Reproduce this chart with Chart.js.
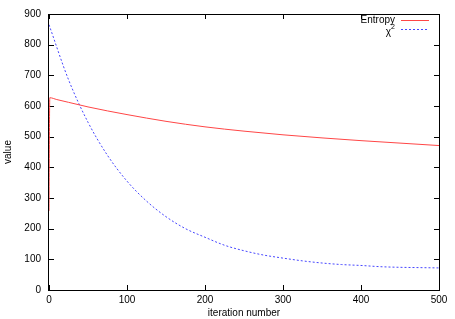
<!DOCTYPE html>
<html>
<head>
<meta charset="utf-8">
<script src="https://cdn.jsdelivr.net/npm/chart.js@4/dist/chart.umd.min.js"></script>
<style>
  html, body { margin: 0; padding: 0; background: #fff; }
  #caixa { width: 455px; height: 319px; }
</style>
</head>
<body>
<div id="caixa"><canvas id="grafico"></canvas></div>
<script>
// dados
const iterEntropia = [0, 1, 10, 25, 50, 75, 100, 150, 200, 250, 300, 350, 400, 450, 500];
const valorEntropia = [258, 627, 621, 612, 597, 584, 572, 550, 532, 518, 506, 496, 487, 479, 471];

const iterChi = [0, 25, 50, 75, 100, 125, 150, 175, 200, 225, 250, 275, 300, 325, 350, 375, 400, 425, 450, 475, 500];
const valorChi = [865, 686, 547, 439, 355, 290, 239, 200, 172, 146, 128, 114, 104, 95, 88, 83, 80, 76, 74, 73, 72];

const ticksX = [0, 100, 200, 300, 400, 500];
const ticksY = [0, 100, 200, 300, 400, 500, 600, 700, 800, 900];

const corEntropia = 'rgb(255, 70, 70)';
const corChi = 'rgb(70, 70, 255)';
const fonte = { family: 'Liberation Sans, Arial, sans-serif', size: 10 };

// moldura estilo gnuplot, com marcas para dentro nos quatro lados
const moldura = {
  id: 'moldura',
  beforeDatasetsDraw(chart) {
    const c = chart.ctx, a = chart.chartArea;
    const sx = chart.scales.x, sy = chart.scales.y;
    c.save();
    c.strokeStyle = '#000';
    c.lineWidth = 1;
    c.strokeRect(a.left - 0.5, a.top + 0.5, a.right - a.left + 1, a.bottom - a.top);
    c.beginPath();
    ticksX.forEach(v => {
      const px = Math.round(sx.getPixelForValue(v)) + 0.5;
      c.moveTo(px, a.bottom); c.lineTo(px, a.bottom - 5);
      c.moveTo(px, a.top); c.lineTo(px, a.top + 5);
    });
    ticksY.forEach(v => {
      const py = Math.round(sy.getPixelForValue(v)) + 0.5;
      c.moveTo(a.left, py); c.lineTo(a.left + 5, py);
      c.moveTo(a.right, py); c.lineTo(a.right - 5, py);
    });
    c.stroke();
    c.restore();
  },
  afterDraw(chart) {
    const c = chart.ctx;
    c.save();
    // legenda
    c.font = '10px ' + fonte.family;
    c.fillStyle = '#000';
    c.textAlign = 'right';
    c.textBaseline = 'middle';
    c.fillText('Entropy', 395, 20);
    c.fillText('\u03c7', 391, 32);
    c.font = '7px ' + fonte.family;
    c.textAlign = 'left';
    c.fillText('2', 391, 27);
    c.lineWidth = 1;
    c.strokeStyle = corEntropia;
    c.setLineDash([]);
    c.beginPath(); c.moveTo(401, 20.5); c.lineTo(429, 20.5); c.stroke();
    c.strokeStyle = corChi;
    c.setLineDash([2, 2]);
    c.beginPath(); c.moveTo(401, 29.5); c.lineTo(429, 29.5); c.stroke();
    c.restore();
  }
};

const ctx = document.getElementById('grafico').getContext('2d');

const grafico = new Chart(ctx, {
  type: 'scatter',
  data: {
    datasets: [{
      label: 'Entropy',
      data: iterEntropia.map((x, i) => ({ x: x, y: valorEntropia[i] })),
      showLine: true,
      borderColor: corEntropia,
      borderWidth: 1,
      pointRadius: 0,
      cubicInterpolationMode: 'monotone'
    }, {
      label: '\u03c7\u00b2',
      data: iterChi.map((x, i) => ({ x: x, y: valorChi[i] })),
      showLine: true,
      borderColor: corChi,
      borderDash: [2, 2],
      borderWidth: 1,
      pointRadius: 0,
      cubicInterpolationMode: 'monotone'
    }]
  },
  options: {
    responsive: true,
    maintainAspectRatio: false,
    animation: false,
    layout: { padding: { top: 11, right: 16, left: 2, bottom: 0 } },
    plugins: {
      legend: { display: false },
      tooltip: { enabled: false }
    },
    scales: {
      x: {
        type: 'linear',
        min: 0,
        max: 500,
        afterBuildTicks: s => { s.ticks = ticksX.map(v => ({ value: v })); },
        afterFit: s => { s.height = 29; },
        grid: { display: false, drawTicks: false },
        border: { display: false },
        ticks: { color: '#000', font: fonte, padding: 4, maxRotation: 0 },
        title: { display: true, text: 'iteration number', color: '#000', font: fonte, padding: { top: 1, bottom: 0 } }
      },
      y: {
        type: 'linear',
        min: 0,
        max: 900,
        afterBuildTicks: s => { s.ticks = ticksY.map(v => ({ value: v })); },
        afterFit: s => { s.width = 47; },
        grid: { display: false, drawTicks: false },
        border: { display: false },
        ticks: { color: '#000', font: fonte, padding: 8 },
        title: { display: true, text: 'value', color: '#000', font: fonte, padding: { top: 0, bottom: 6 } }
      }
    }
  },
  plugins: [moldura]
});
</script>
</body>
</html>
